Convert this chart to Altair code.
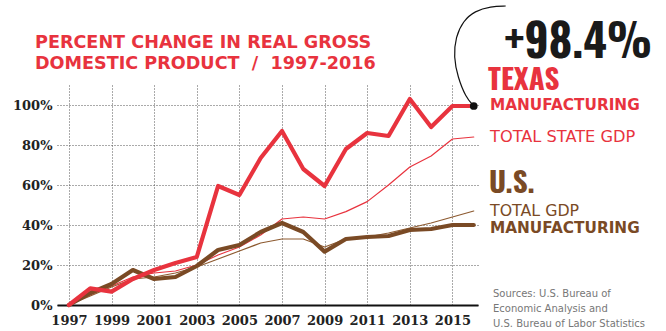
import altair as alt
import pandas as pd

years = list(range(1997, 2017))
texas_mfg = [0, 8.3, 6.7, 13, 17.5, 21, 24, 59.5, 55, 73.5, 87, 68, 59.5, 78, 86, 84.5, 103, 89, 99.5, 99.5]
texas_gdp = [0, 5, 9.5, 14, 16, 17, 20, 25, 29, 35, 43, 44, 43, 46.7, 51.7, 60, 69, 74.5, 83, 84]
us_mfg = [0, 6, 10.5, 17.5, 13, 14, 19.5, 27.5, 30, 36.5, 41, 36.5, 26.7, 33, 34, 34.5, 37.5, 38, 40, 40]
us_gdp = [0, 4.5, 9, 13, 14, 16, 19, 23, 27, 31, 33, 33, 29, 33, 34, 36, 38.5, 41, 44, 47]

x_tick_years = [1997, 1999, 2001, 2003, 2005, 2007, 2009, 2011, 2013, 2015]
y_grid_values = [0, 10, 20, 30, 40, 50, 60, 70, 80, 90, 100, 110]

# connector from the 2016 Texas manufacturing point up to the "+98.4%" callout
conn_year = [2016.0, 2015.62, 2015.25, 2015.06, 2015.15, 2015.5, 2016.05, 2016.8, 2017.5]
conn_pct = [99.5, 104, 114, 124, 134, 142, 147, 149.3, 149.5]

RED = "#e8333e"
BROWN = "#7a4a25"
BROWN_THIN = "#8d5a30"

rows = []
for name, vals in [("Texas GDP", texas_gdp), ("US GDP", us_gdp),
                   ("US Mfg", us_mfg), ("Texas Mfg", texas_mfg)]:
    for y, v in zip(years, vals):
        rows.append({"year": y, "pct": v, "series": name})
df = pd.DataFrame(rows)

xs = alt.Scale(domain=[1996.44, 2016.2], nice=False, zero=False)
ys = alt.Scale(domain=[0, 110], nice=False)

x_axis = alt.Axis(values=x_tick_years, format="d", title=None, ticks=False,
                  labelFont="DejaVu Serif", labelFontWeight="bold", labelFontSize=13,
                  labelColor="#222", labelPadding=9, domainColor="#111", domainWidth=2,
                  grid=True, gridColor="#555", gridDash=[1, 2], gridWidth=1,
                  labelFlush=False)
y_axis = alt.Axis(values=y_grid_values, title=None, ticks=False, domain=False,
                  labelExpr="datum.value % 20 == 0 && datum.value <= 100 ? datum.value + '%' : ''",
                  labelFont="DejaVu Serif", labelFontWeight="bold", labelFontSize=13,
                  labelColor="#222", labelPadding=5,
                  grid=True,
                  gridColor={"condition": {"test": "datum.value % 20 == 0 && datum.value <= 100", "value": "#555"}, "value": "#c4c4c4"},
                  gridDash=[1, 2], gridWidth=1)

base = alt.Chart(df)

def series_line(name, color, width):
    return base.transform_filter(alt.datum.series == name).mark_line(
        color=color, strokeWidth=width, strokeJoin="round", strokeCap="round"
    ).encode(x=alt.X("year:Q", scale=xs, axis=x_axis), y=alt.Y("pct:Q", scale=ys, axis=y_axis))

lines = [
    series_line("Texas GDP", RED, 1.2),
    series_line("US GDP", BROWN_THIN, 1.2),
    series_line("US Mfg", BROWN, 4.2),
    series_line("Texas Mfg", RED, 4.2),
]

conn_df = pd.DataFrame({"year": conn_year, "pct": conn_pct, "i": list(range(len(conn_year)))})
connector = alt.Chart(conn_df).mark_line(color="#111", strokeWidth=1.2, interpolate="basis", clip=False).encode(
    x=alt.X("year:Q", scale=xs), y=alt.Y("pct:Q", scale=ys), order="i:Q")

dot_df = pd.DataFrame({"year": [years[-1]], "pct": [texas_mfg[-1]]})
dot = alt.Chart(dot_df).mark_point(filled=True, color="#111", size=60, opacity=1).encode(
    x=alt.X("year:Q", scale=xs), y=alt.Y("pct:Q", scale=ys))

one = pd.DataFrame({"a": [0]})

def label(text, x, y, size, color, font="DejaVu Sans", weight="normal", align="left"):
    return alt.Chart(one).mark_text(
        text=text, fontSize=size, color=color, font=font, fontWeight=weight,
        align=align, baseline="alphabetic"
    ).encode(x=alt.value(x), y=alt.value(y))

NARROW = "Oswald, Open Sans Condensed, Roboto Condensed"
NB = "\u00a0"
labels = [
    label("PERCENT CHANGE IN REAL GROSS", -22, -37, 17.6, RED, weight="bold"),
    label("DOMESTIC PRODUCT" + NB * 2 + "/" + NB * 2 + "1997-2016", -22, -16, 17.6, RED, weight="bold"),
    label("+98.4%", 595, -27, 45, "#1a1a1a", font=NARROW, weight="bold", align="right"),
    label("TEXAS", 431, 5, 29, RED, font=NARROW, weight="bold"),
    label("MANUFACTURING", 433, 25, 15.3, RED, weight="bold"),
    label("TOTAL STATE GDP", 433, 57, 16.2, RED),
    label("U.S.", 432, 108, 29, BROWN, font=NARROW, weight="bold"),
    label("TOTAL GDP", 433, 131, 15.8, BROWN),
    label("MANUFACTURING", 433, 148, 15.3, BROWN, weight="bold"),
    label("Sources: U.S. Bureau of", 436, 212, 10, "#777"),
    label("Economic Analysis and", 436, 227, 10, "#777"),
    label("U.S. Bureau of Labor Statistics", 436, 242, 10, "#777"),
]

chart = alt.layer(*lines, connector, dot, *labels).properties(
    width=421, height=220,
    autosize=alt.AutoSizeParams(type="none"),
    padding={"left": 57, "top": 85, "right": 188, "bottom": 26},
    background="white",
).configure_view(stroke=None)

chart.save("out.html", embed_options={"renderer": "svg", "actions": False})
